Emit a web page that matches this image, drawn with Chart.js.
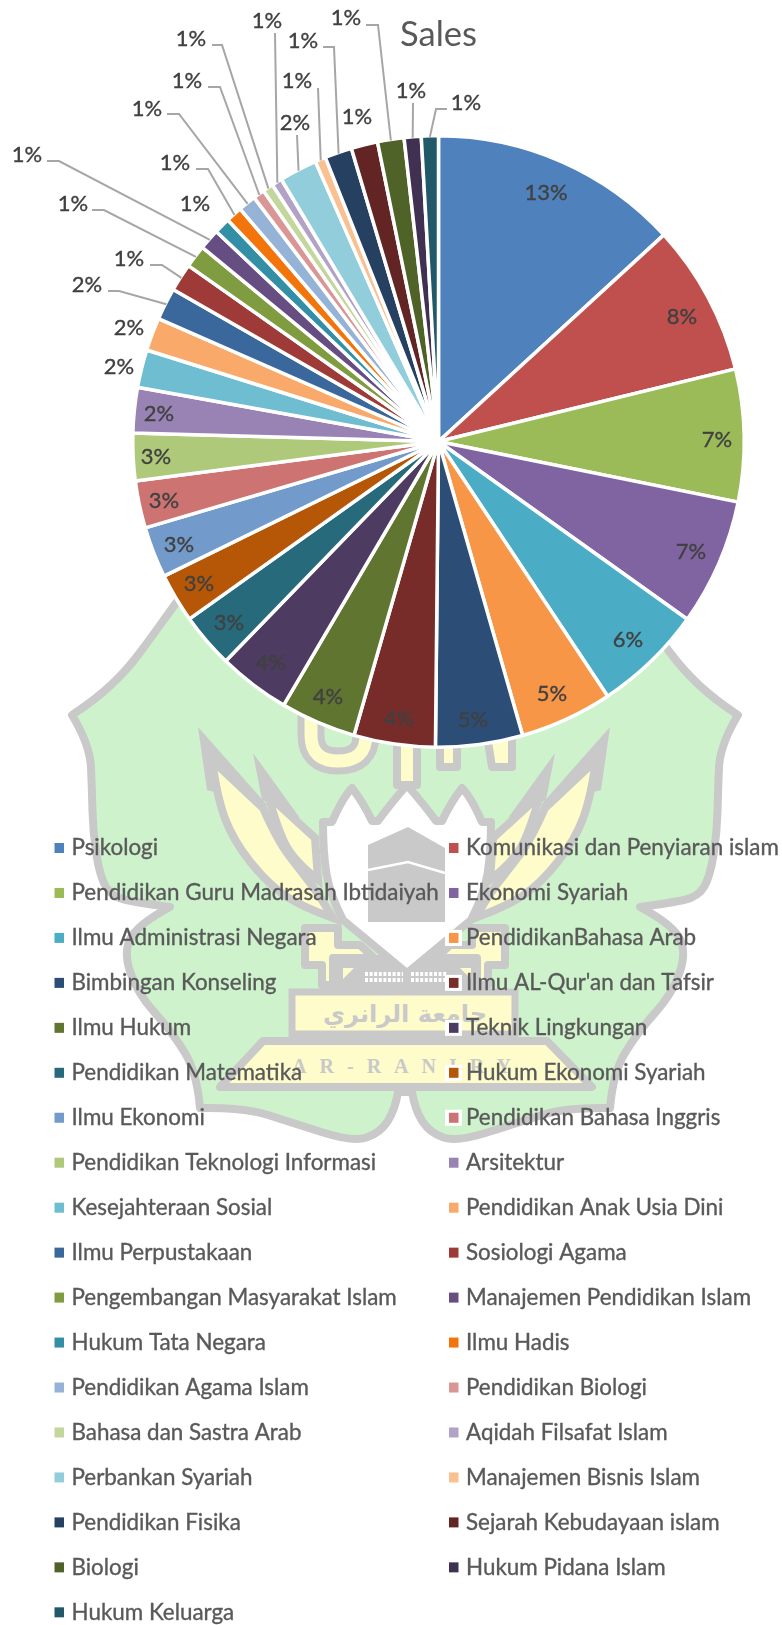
<!DOCTYPE html>
<html>
<head>
<meta charset="utf-8">
<title>Sales</title>
<script src="https://cdn.jsdelivr.net/npm/chart.js@4"></script>
<style>
    html, body { margin: 0; padding: 0; background: #fff; }
    #wrap { position: relative; width: 782px; height: 1625px; overflow: hidden; }
    #watermark, #salesChart { position: absolute; left: 0; top: 0; }
</style>
</head>
<body>
<div id="wrap">
    <svg id="watermark" width="782" height="1625" viewBox="0 0 782 1625"></svg>
    <canvas id="salesChart" width="782" height="1625"></canvas>
</div>
<script>
// 데이터
const categories = [
    'Psikologi', 'Komunikasi dan Penyiaran islam', 'Pendidikan Guru Madrasah Ibtidaiyah', 'Ekonomi Syariah',
    'Ilmu Administrasi Negara', 'PendidikanBahasa Arab', 'Bimbingan Konseling', "Ilmu AL-Qur'an dan Tafsir",
    'Ilmu Hukum', 'Teknik Lingkungan', 'Pendidikan Matematika', 'Hukum Ekonomi Syariah',
    'Ilmu Ekonomi', 'Pendidikan Bahasa Inggris', 'Pendidikan Teknologi Informasi', 'Arsitektur',
    'Kesejahteraan Sosial', 'Pendidikan Anak Usia Dini', 'Ilmu Perpustakaan', 'Sosiologi Agama',
    'Pengembangan Masyarakat Islam', 'Manajemen Pendidikan Islam', 'Hukum Tata Negara', 'Ilmu Hadis',
    'Pendidikan Agama Islam', 'Pendidikan Biologi', 'Bahasa dan Sastra Arab', 'Aqidah Filsafat Islam',
    'Perbankan Syariah', 'Manajemen Bisnis Islam', 'Pendidikan Fisika', 'Sejarah Kebudayaan islam',
    'Biologi', 'Hukum Pidana Islam', 'Hukum Keluarga'
];
const salesShare = [
    13.2, 8.0, 7.0, 6.7, 5.8, 4.9, 4.6, 4.3, 4.0, 3.8, 2.9, 2.6,
    2.7, 2.5, 2.5, 2.4, 2.0, 1.75, 1.7, 1.47, 1.2, 1.1, 0.85, 0.86,
    0.94, 0.6, 0.56, 0.55, 2.0, 0.56, 1.44, 1.4, 1.4, 0.9, 0.9
];
const sliceColors = [
    '#4F81BD', '#C0504D', '#9BBB59', '#8064A2', '#4BACC6', '#F79646', '#2C4D75', '#772C2A',
    '#5F7530', '#4D3B62', '#276A7C', '#B65708', '#729ACA', '#CD7371', '#AFC97A', '#9983B5',
    '#6FBDD1', '#F9AA6A', '#3A679C', '#9E3A38', '#7F9D40', '#664E83', '#338FA6', '#F3740B',
    '#95B3D7', '#D99694', '#C3D69B', '#B2A2C7', '#92CDDC', '#FAC090', '#254061', '#632523',
    '#4F6228', '#403152', '#215968'
];

// 라벨 위치 (슬라이스 순서)
const labelSpots = [
    [546, 193], [682, 317], [717, 440], [691, 552], [628, 640], [552, 694], [473, 720], [399, 719],
    [328, 697], [271, 663], [229, 623], [199, 584], [179, 545], [164, 501], [156, 457], [159, 414],
    [119, 367], [129, 328], [87, 285], [129, 259], [73, 204], [27, 155], [195, 204], [175, 163],
    [147, 109], [187, 81], [191, 39], [267, 21], [295, 123], [297, 81], [303, 41], [357, 117],
    [346, 18], [411, 91], [466, 103]
];
// 지시선: 슬라이스 번호 -> 라벨 쪽 꺾임점
const leaderBends = {
    18: [[108, 291], [119, 291]],
    19: [[150, 265], [162, 265]],
    20: [[92, 210], [104, 210]],
    21: [[47, 161], [59, 161]],
    23: [[196, 169], [208, 169]],
    24: [[167, 114], [179, 114]],
    25: [[208, 87], [220, 87]],
    26: [[212, 45], [222, 45]],
    27: [[275, 33]],
    28: [[297, 135]],
    29: [[318, 88]],
    30: [[323, 47], [334, 47]],
    32: [[366, 25], [378, 25]],
    33: [[413, 103]],
    34: [[447, 109], [436, 109]]
};

const $ = (id) => document.getElementById(id);

/**
 * 배경 워터마크 (차트 뒤 로고)
 */
const GRAY = '#C9C9C9', YELLOW = '#FFFCCB', GREEN = '#CEF3CC';

function smoothPath(pts) {
    let d = `M${pts[0][0]} ${pts[0][1]}`;
    for (let i = 1; i < pts.length; i++) {
        const p = pts[i];
        const next = pts[(i + 1) % pts.length];
        if (p[2]) { d += `L${p[0]} ${p[1]}`; continue; }
        const tx = next[2] ? next[0] : (p[0] + next[0]) / 2;
        const ty = next[2] ? next[1] : (p[1] + next[1]) / 2;
        d += `Q${p[0]} ${p[1]} ${tx} ${ty}`;
    }
    return d + 'Z';
}
const mirror = (pts, cx) => pts.map(p => [2 * cx - p[0], p[1], p[2]]);
const shape = (pts, fill, join) =>
    `<path d="${smoothPath(pts)}" fill="${fill}" stroke="${GRAY}" stroke-width="8" stroke-linejoin="${join || 'round'}" stroke-miterlimit="30"/>`;
const wedge = (pts) => `<path d="${smoothPath(pts)}" fill="${GRAY}"/>`;

function buildWatermark() {
    const outerLeft = [
        [230, 530, 1], [173, 607], [153, 635], [127, 670], [95, 700], [72, 715, 1], [90, 745], [92, 790], [93, 833],
        [100, 877], [112, 897], [140, 903], [170, 907, 1], [140, 923], [123, 950], [137, 993], [173, 1033], [197, 1073],
        [200, 1108, 1], [243, 1107], [293, 1123], [353, 1142], [380, 1133], [395, 1110], [398, 1092, 1]
    ];
    const outer = outerLeft.concat(mirror(outerLeft, 405).reverse());

    const leafOuter = [
        [212, 760, 1], [217, 797], [233, 840], [267, 883], [300, 906], [333, 918, 1], [318, 893], [300, 870], [277, 840], [263, 808, 1]
    ];
    const leafInner = [[268, 795, 1], [315, 838, 1], [318, 880, 1], [293, 860], [277, 827]];
    // 잎 끝의 뾰족한 회색 부분
    const tipOuter = [[198, 727, 1], [207, 790, 1], [268, 806, 1]];
    const tipInner = [[253, 753, 1], [262, 800, 1], [300, 818, 1]];

    const crossLeft = [
        [305, 928, 1], [338, 928, 1], [338, 945, 1], [360, 945, 1], [374, 958, 1], [333, 958, 1],
        [333, 985, 1], [322, 985, 1], [322, 965, 1], [305, 965, 1]
    ];

    const shieldLeft = [
        [407, 785, 1], [388, 807], [378, 821, 1], [372, 821, 1], [363, 802], [352, 788, 1], [343, 797], [332, 822, 1],
        [323, 822, 1], [323, 853], [330, 895], [343, 920, 1], [407, 973, 1]
    ];
    const shieldRight = mirror(shieldLeft, 407).reverse().slice(1, -1);
    const shield = shieldLeft.concat(shieldRight);

    const uPath = 'M311 690V735Q311 761 338 761Q366 761 366 735V690';

    $('watermark').innerHTML = [
        shape(outer, GREEN),
        wedge(tipOuter), wedge(tipInner), wedge(mirror(tipOuter, 404)), wedge(mirror(tipInner, 404)),
        shape(leafOuter, YELLOW, 'miter'), shape(leafInner, YELLOW, 'miter'),
        shape(mirror(leafOuter, 404), YELLOW, 'miter'), shape(mirror(leafInner, 404), YELLOW, 'miter'),
        // UIN
        `<path d="${uPath}" fill="none" stroke="${GRAY}" stroke-width="27"/>`,
        `<path d="${uPath}" fill="none" stroke="${YELLOW}" stroke-width="13"/>`,
        shape([[397, 690, 1], [417, 690, 1], [417, 785, 1], [397, 785, 1]], YELLOW),
        shape([[440, 690, 1], [457, 690, 1], [457, 767, 1], [440, 767, 1]], YELLOW),
        shape([[480, 690, 1], [512, 690, 1], [512, 767, 1], [492, 767, 1]], YELLOW),
        // 기단
        `<rect x="330" y="955" width="154" height="36" fill="${GRAY}"/>`,
        shape(crossLeft, YELLOW), shape(mirror(crossLeft, 405), YELLOW),
        `<path d="M343 968H354L343 979Z" fill="${YELLOW}"/><path d="M471 968H460L471 979Z" fill="${YELLOW}"/>`,
        // 방패와 카바
        shape(shield, '#FFFFFF'),
        `<path d="M368 845L408 827L445 848V922H368Z" fill="${GRAY}"/>`,
        `<path d="M368 870L408 862L445 873" fill="none" stroke="#fff" stroke-width="2.5"/>`,
        `<path d="M365 974H403M365 980H403M411 974H447M411 980H447" stroke="#fff" stroke-width="4" stroke-dasharray="3 1.6"/>`,
        // 현판
        `<rect x="292" y="992" width="223" height="42" fill="${YELLOW}" stroke="${GRAY}" stroke-width="7"/>`,
        `<text x="405" y="1022" text-anchor="middle" direction="rtl" font-family="DejaVu Sans" font-weight="bold" font-size="24" fill="${GRAY}">جامعة الرانري</text>`,
        shape([[263, 1041, 1], [547, 1041, 1], [592, 1087, 1], [220, 1087, 1]], YELLOW),
        `<text x="408" y="1073" text-anchor="middle" font-family="Liberation Serif" font-weight="bold" font-size="20" letter-spacing="13" fill="${GRAY}">AR-RANIRY</text>`
    ].join('');
}

// 글자 굵기 보정
function drawText(ctx, text, x, y) {
    ctx.lineWidth = 0.35;
    ctx.strokeStyle = ctx.fillStyle;
    ctx.strokeText(text, x, y);
    ctx.fillText(text, x, y);
}

/**
 * 퍼센트 라벨과 지시선
 */
const percentLabels = {
    id: 'percentLabels',
    afterDatasetsDraw(chart) {
        const ctx = chart.ctx;
        const arcs = chart.getDatasetMeta(0).data;
        ctx.save();
        arcs.forEach((arc, i) => {
            const bends = leaderBends[i];
            if (!bends) return;
            const mid = (arc.startAngle + arc.endAngle) / 2;
            const r = arc.outerRadius - 1;
            ctx.beginPath();
            bends.forEach((b, k) => k ? ctx.lineTo(b[0], b[1]) : ctx.moveTo(b[0], b[1]));
            ctx.lineTo(arc.x + Math.cos(mid) * r, arc.y + Math.sin(mid) * r);
            ctx.strokeStyle = '#A6A6A6';
            ctx.lineWidth = 2;
            ctx.stroke();
        });
        ctx.font = '22px Lato';
        ctx.fillStyle = '#404040';
        ctx.textAlign = 'center';
        ctx.textBaseline = 'middle';
        salesShare.forEach((v, i) => {
            drawText(ctx, Math.round(v) + '%', labelSpots[i][0], labelSpots[i][1]);
        });
        ctx.restore();
    }
};

/**
 * 2열 범례
 */
const twoColumnLegend = {
    id: 'twoColumnLegend',
    afterDraw(chart) {
        const ctx = chart.ctx;
        ctx.save();
        ctx.font = '22.4px Lato';
        ctx.textBaseline = 'middle';
        ctx.textAlign = 'left';
        categories.forEach((name, i) => {
            const col = i % 2;
            const row = Math.floor(i / 2);
            const y = 848 + row * 44.96;
            const mx = col ? 449 : 54.5;
            const tx = col ? 466 : 71.5;
            ctx.fillStyle = '#fff';
            ctx.fillRect(mx - 4, y - 8, 17, 16);
            ctx.fillStyle = sliceColors[i];
            ctx.fillRect(mx, y - 5, 9.5, 10);
            ctx.fillStyle = '#595959';
            drawText(ctx, name, tx, y);
        });
        ctx.restore();
    }
};

function renderChart() {
    new Chart($('salesChart').getContext('2d'), {
        type: 'pie',
        data: {
            labels: categories,
            datasets: [{
                label: 'Sales',
                data: salesShare,
                backgroundColor: sliceColors,
                borderColor: '#FFFFFF',
                borderWidth: 3.5
            }]
        },
        options: {
            responsive: false,
            animation: false,
            layout: { padding: { left: 131, right: 36, top: 14, bottom: 876 } },
            plugins: {
                legend: { display: false },
                tooltip: { enabled: false },
                title: {
                    display: true,
                    text: 'Sales',
                    fullSize: false,
                    color: '#595959',
                    font: { family: 'Lato', size: 34.5, weight: 'normal', lineHeight: 1.2 },
                    padding: { top: 0, bottom: 78.6 }
                }
            }
        },
        plugins: [percentLabels, twoColumnLegend]
    });
}

buildWatermark();
renderChart();
</script>
</body>
</html>
